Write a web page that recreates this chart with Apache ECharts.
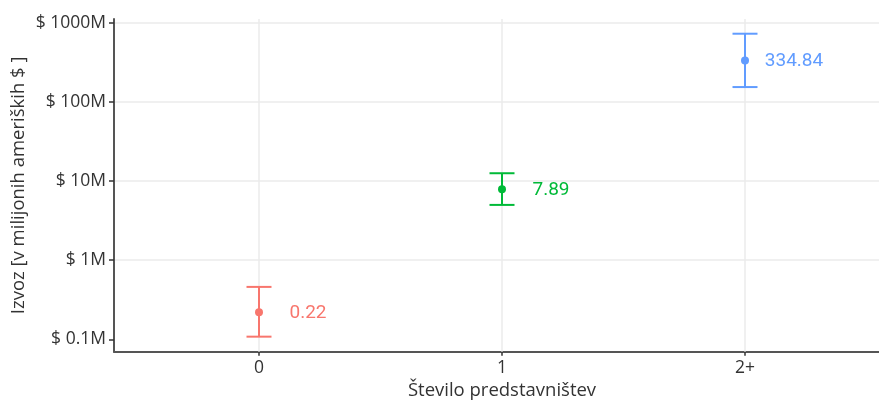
<!DOCTYPE html>
<html>
<head>
<meta charset="utf-8">
<script src="https://cdn.jsdelivr.net/npm/echarts@6/dist/echarts.min.js"></script>
<style>html,body{margin:0;padding:0;background:#fff;}#c{width:879px;height:400px;}</style>
</head>
<body>
<div id="c"></div>
<script>
const categories = ['0', '1', '2+'];
const values = [0.22, 7.89, 334.84];
const lowerBounds = [0.108, 5.01, 155];
const upperBounds = [0.46, 12.6, 733];
const colors = ['#F8766D', '#00BA38', '#619CFF'];
const yTickValues = [0.1, 1, 10, 100, 1000];
const yTickLabels = ['$ 0.1M', '$ 1M', '$ 10M', '$ 100M', '$ 1000M'];

const Y_MIN = 0.0697, Y_MAX = 1125;
const axisFont = '"Open Sans", "Noto Sans", sans-serif';
const textColor = '#333333';

function labelFor(v) {
  for (let i = 0; i < yTickValues.length; i++) {
    if (Math.abs(Math.log10(v) - Math.log10(yTickValues[i])) < 1e-6) return yTickLabels[i];
  }
  return '';
}

const chart = echarts.init(document.getElementById('c'), null, {renderer: 'canvas'});
const option = {
  backgroundColor: '#ffffff',
  animation: false,
  grid: [
    {left: 137.5, right: 12.5, top: 19, bottom: 48.3, containLabel: false, outerBoundsMode: 'none'},
    {left: 114, right: 0, top: 19, bottom: 48.3, containLabel: false, outerBoundsMode: 'none'}
  ],
  xAxis: [
    {
      gridIndex: 0, type: 'category', data: categories, boundaryGap: true,
      axisLine: {show: false},
      axisTick: {show: true, alignWithLabel: true, length: 4, lineStyle: {color: '#333', width: 1.5}},
      axisLabel: {margin: 7, fontSize: 17.5, color: textColor, fontFamily: axisFont},
      splitLine: {show: false},
      name: 'Število predstavništev', nameLocation: 'middle', nameGap: 29,
      nameTextStyle: {fontSize: 18.5, color: textColor, fontFamily: axisFont}
    },
    {
      gridIndex: 1, type: 'value', min: 0, max: 1,
      axisLine: {show: true, onZero: false, lineStyle: {color: '#555', width: 2}},
      axisTick: {show: false}, axisLabel: {show: false}, splitLine: {show: false}
    }
  ],
  yAxis: [
    {
      gridIndex: 0, type: 'log', logBase: 10, min: Y_MIN, max: Y_MAX,
      axisLine: {show: false}, axisTick: {show: false}, axisLabel: {show: false}, splitLine: {show: false}
    },
    {
      gridIndex: 1, type: 'log', logBase: 10, min: Y_MIN, max: Y_MAX,
      axisLine: {show: true, lineStyle: {color: '#555', width: 2}},
      axisTick: {show: true, length: 5, customValues: yTickValues, lineStyle: {color: '#333', width: 1.5}},
      axisLabel: {margin: 8, fontSize: 17.5, color: textColor, fontFamily: axisFont, formatter: labelFor,
        showMinLabel: true, showMaxLabel: true},
      splitLine: {show: true, lineStyle: {color: ['rgba(0,0,0,0)', '#ebebeb', '#ebebeb', '#ebebeb', '#ebebeb', '#ebebeb', 'rgba(0,0,0,0)'], width: 1.5}},
      name: 'Izvoz [v milijonih ameriških $ ]', nameLocation: 'middle', nameGap: 86,
      nameMoveOverlap: false,
      nameTextStyle: {fontSize: 18.5, color: textColor, fontFamily: axisFont}
    }
  ],
  series: [
    {
      type: 'custom', xAxisIndex: 0, yAxisIndex: 0, z: 3,
      data: categories.map((c, i) => [i, lowerBounds[i], upperBounds[i]]),
      renderItem: function (params, api) {
        const i = api.value(0);
        const lo = api.coord([i, api.value(1)]);
        const hi = api.coord([i, api.value(2)]);
        const half = 12.5;
        const style = {stroke: colors[params.dataIndex], lineWidth: 2, fill: null};
        return {
          type: 'group',
          children: [
            {type: 'line', shape: {x1: lo[0], y1: lo[1], x2: hi[0], y2: hi[1]}, style: style},
            {type: 'line', shape: {x1: lo[0] - half, y1: lo[1], x2: lo[0] + half, y2: lo[1]}, style: style},
            {type: 'line', shape: {x1: hi[0] - half, y1: hi[1], x2: hi[0] + half, y2: hi[1]}, style: style}
          ]
        };
      },
      markLine: {
        silent: true, symbol: 'none', z: 1,
        label: {show: false},
        lineStyle: {color: '#ebebeb', width: 1.5, type: 'solid'},
        data: categories.map(c => ({xAxis: c}))
      }
    },
    {
      type: 'scatter', xAxisIndex: 0, yAxisIndex: 0, z: 4,
      symbolSize: 8,
      itemStyle: {opacity: 1},
      data: categories.map((c, i) => ({
        value: [c, values[i]],
        itemStyle: {color: colors[i], opacity: 1},
        label: {color: colors[i]}
      })),
      label: {
        show: true, position: 'inside', align: 'center', verticalAlign: 'middle',
        offset: [49, 1],
        fontSize: 19, fontFamily: 'Roboto, sans-serif',
        formatter: p => values[p.dataIndex].toFixed(2)
      }
    }
  ]
};
chart.setOption(option);
</script>
</body>
</html>
